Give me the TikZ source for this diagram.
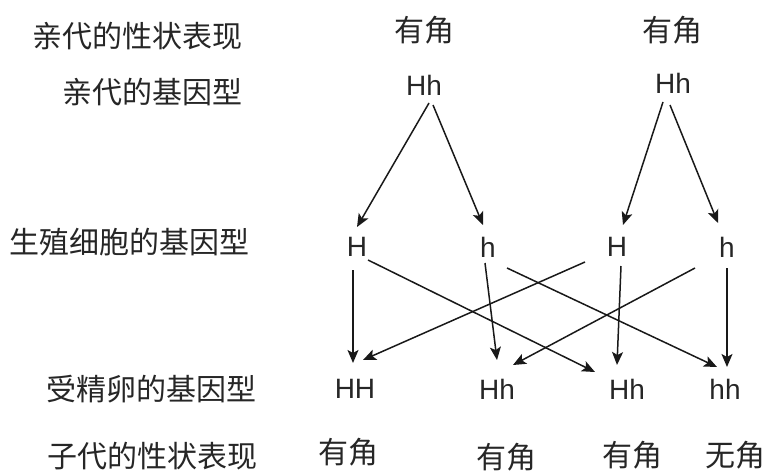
\documentclass[tikz,border=0pt]{standalone}
\usepackage{fontspec}
\setmainfont{Liberation Sans}
\newfontfamily\cjk{Noto Sans CJK SC}
\usetikzlibrary{arrows.meta}
\tikzset{
  lab/.style={font=\cjk\fontsize{30}{32}\selectfont, inner sep=0pt, anchor=east, text=black!85},
  cj/.style={font=\cjk\fontsize{30}{32}\selectfont, inner sep=0pt, text=black!85},
  gt/.style={font=\fontsize{28}{30}\selectfont, inner sep=0pt, text=black!85},
  arr/.style={-{Stealth[length=13pt,width=11pt,inset=3pt]}, line width=1.5pt, black!90}
}
\begin{document}
\begin{tikzpicture}[x=1pt,y=-1pt]
\useasboundingbox (0,0) rectangle (769,471);
% left labels
\node[lab] (l1) at (243,36) {亲代的性状表现};
\node[lab] (l2) at (243,92) {亲代的基因型};
\node[lab] (l3) at (250,242) {生殖细胞的基因型};
\node[lab] (l4) at (257,389) {受精卵的基因型};
\node[lab] (l5) at (258,456) {子代的性状表现};
% parents
\node[cj] (p1) at (424,30) {有角};
\node[cj] (p2) at (672,30) {有角};
\node[gt] (g1) at (424,85) {Hh};
\node[gt] (g2) at (673,83) {Hh};
% gametes
\node[gt] (a1) at (357,247) {H};
\node[gt] (a2) at (488,247) {h};
\node[gt] (a3) at (617,247) {H};
\node[gt] (a4) at (727,247) {h};
% zygotes
\node[gt] (z1) at (355,389) {HH};
\node[gt] (z2) at (497,389) {Hh};
\node[gt] (z3) at (627,389) {Hh};
\node[gt] (z4) at (725,389) {hh};
% offspring
\node[cj] (o1) at (348,452) {有角};
\node[cj] (o2) at (506,457) {有角};
\node[cj] (o3) at (632,455) {有角};
\node[cj] (o4) at (735,455) {无角};
% arrows parents -> gametes
\draw[arr] ([shift={(5,18)}]g1.center) -- ([shift={(0,-20)}]a1.center);
\draw[arr] ([shift={(9,20)}]g1.center) -- ([shift={(-5,-22)}]a2.center);
\draw[arr] ([shift={(-10,19)}]g2.center) -- ([shift={(6,-22)}]a3.center);
\draw[arr] ([shift={(-3,22)}]g2.center) -- ([shift={(-9,-24)}]a4.center);
% gametes -> zygotes
\draw[arr] ([shift={(-4,23)}]a1.center) -- ([shift={(-2,-26)}]z1.center);
\draw[arr] ([shift={(11,13)}]a1.center) -- ([shift={(-32,-17)}]z3.center);
\draw[arr] ([shift={(-3,16)}]a2.center) -- ([shift={(0,-29)}]z2.center);
\draw[arr] ([shift={(19,21)}]a2.center) -- ([shift={(-8,-22)}]z4.center);
\draw[arr] ([shift={(-32,15)}]a3.center) -- ([shift={(8,-29)}]z1.center);
\draw[arr] ([shift={(4,19)}]a3.center) -- ([shift={(-10,-24)}]z3.center);
\draw[arr] ([shift={(-32,21)}]a4.center) -- ([shift={(16,-24)}]z2.center);
\draw[arr] ([shift={(0,21)}]a4.center) -- ([shift={(2,-22)}]z4.center);
\end{tikzpicture}
\end{document}
